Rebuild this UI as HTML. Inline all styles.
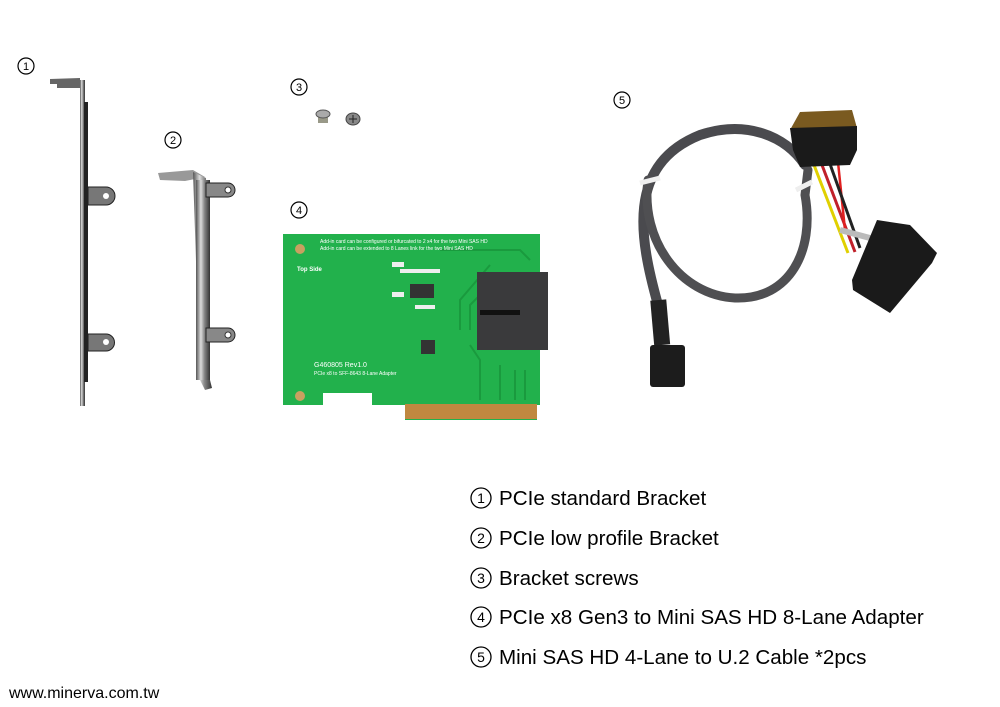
<!DOCTYPE html>
<html><head><meta charset="utf-8"><style>
html,body{margin:0;padding:0;background:#fff;}
svg{display:block;}
text{font-family:"Liberation Sans",Arial,sans-serif;}
</style></head><body>
<svg width="1000" height="707" viewBox="0 0 1000 707" xmlns="http://www.w3.org/2000/svg">
<defs>
<linearGradient id="met" x1="0" x2="1" y1="0" y2="0">
<stop offset="0" stop-color="#555"/><stop offset="0.35" stop-color="#ddd"/><stop offset="0.6" stop-color="#888"/><stop offset="1" stop-color="#333"/>
</linearGradient>
</defs>
<g fill="none" stroke="#000" stroke-width="1.2">
<circle cx="26" cy="66" r="8"/><circle cx="173" cy="140" r="8"/><circle cx="299" cy="87" r="8"/><circle cx="299" cy="210" r="8"/><circle cx="622" cy="100" r="8"/>
</g>
<g font-size="11" text-anchor="middle" fill="#000">
<text x="26" y="70">1</text><text x="173" y="144">2</text><text x="299" y="91">3</text><text x="299" y="214">4</text><text x="622" y="104">5</text>
</g>
<!-- bracket 1 -->
<path d="M50 79 L80 78 L80 88 L57 88 L57 84 L50 84 Z" fill="#666"/>
<rect x="80" y="80" width="5" height="326" fill="url(#met)"/>
<rect x="84" y="102" width="4" height="280" fill="#222"/>
<path d="M88 187 L106 187 A6 6 0 0 1 106 205 L88 205 Z" fill="#777" stroke="#222"/>
<circle cx="106" cy="196" r="3" fill="#fff"/>
<path d="M88 334 L106 334 A6 6 0 0 1 106 351 L88 351 Z" fill="#777" stroke="#222"/>
<circle cx="106" cy="342" r="3" fill="#fff"/>
<!-- bracket 2 -->
<path d="M158 173 L193 170 L205 177 L185 181 L160 180 Z" fill="#999"/>
<path d="M193 172 L206 178 L210 380 L212 388 L205 390 L200 380 Z" fill="url(#met)"/>
<rect x="196" y="180" width="14" height="200" fill="url(#met)"/>
<path d="M206 183 L228 183 A7 7 0 0 1 228 197 L206 197 Z" fill="#888" stroke="#222"/>
<circle cx="228" cy="190" r="3" fill="#fff" stroke="#333"/>
<path d="M206 328 L228 328 A7 7 0 0 1 228 342 L206 342 Z" fill="#888" stroke="#222"/>
<circle cx="228" cy="335" r="3" fill="#fff" stroke="#333"/>
<!-- screws -->
<rect x="318" y="113" width="10" height="10" fill="#998" /><ellipse cx="323" cy="114" rx="7" ry="4" fill="#aaa" stroke="#555"/>
<ellipse cx="353" cy="119" rx="7" ry="6" fill="#888" stroke="#444"/><path d="M349 119h8M353 115v8" stroke="#222"/>
<!-- PCB -->
<path d="M283 234 L540 234 L540 405 L537 405 L537 420 L405 420 L405 405 L372 405 L372 393 L323 393 L323 405 L283 405 Z" fill="#22b14c"/>
<rect x="405" y="404" width="132" height="15" fill="#c08840"/>
<g stroke="#1a9a3e" stroke-width="2" fill="none">
<path d="M460 330 L460 300 L490 265"/><path d="M470 330 L470 305 L500 275"/><path d="M480 400 L480 360 L470 345"/><path d="M500 400 L500 365"/><path d="M515 400 L515 370"/><path d="M525 400 L525 370"/>
<path d="M440 250 L520 250 L530 260"/>
</g>
<circle cx="300" cy="249" r="5" fill="#c9a060"/><circle cx="300" cy="396" r="5" fill="#c9a060"/>
<rect x="410" y="284" width="24" height="14" fill="#333"/>
<rect x="421" y="340" width="14" height="14" fill="#333"/>
<g fill="#eee"><rect x="392" y="262" width="12" height="5"/><rect x="392" y="292" width="12" height="5"/><rect x="415" y="305" width="20" height="4"/><rect x="400" y="269" width="40" height="4"/></g>
<rect x="477" y="272" width="71" height="78" fill="#3a3a3c"/>
<rect x="480" y="310" width="40" height="5" fill="#111"/>
<g font-size="5" fill="#fff">
<text x="320" y="243">Add-in card can be configured or bifurcated to 2 x4 for the two Mini SAS HD</text>
<text x="320" y="250">Add-in card can be extended to 8 Lanes link for the two Mini SAS HD</text>
<text x="297" y="271" font-size="6" font-weight="bold">Top Side</text>
<text x="314" y="367" font-size="7">G460805 Rev1.0</text>
<text x="314" y="375">PCIe x8 to SFF-8643 8-Lane Adapter</text>
</g>
<!-- cable -->
<g fill="none" stroke-linecap="round">
<path d="M658 305 C 640 240, 625 165, 700 135 C 745 120, 785 135, 805 165" stroke="#4a4a4e" stroke-width="10"/>
<path d="M648 180 C 640 240, 680 295, 735 298 C 790 300, 815 250, 805 195 L 808 170" stroke="#4f4f52" stroke-width="9"/>
</g>
<rect x="652" y="300" width="16" height="45" fill="#222" transform="rotate(-5 660 320)"/>
<rect x="650" y="345" width="35" height="42" rx="3" fill="#1c1c1c"/>
<path d="M640 183 L660 178 M796 190 L812 182" stroke="#eee" stroke-width="5"/>
<path d="M814 165 L848 253" stroke="#e0d000" stroke-width="3"/>
<path d="M822 165 L855 252" stroke="#c0202a" stroke-width="3"/>
<path d="M838 162 L845 230 L865 236" stroke="#e02020" stroke-width="2.5" fill="none"/>
<path d="M830 164 L860 248" stroke="#222" stroke-width="3"/>
<path d="M840 230 L870 238" stroke="#bbb" stroke-width="6"/>
<path d="M800 112 L852 110 L857 128 L790 130 Z" fill="#7a5a20"/>
<path d="M790 128 L857 126 L857 150 L850 165 L800 167 L793 150 Z" fill="#1a1a1a"/>
<path d="M852 280 L877 220 L910 225 L937 253 L932 263 L890 313 L853 290 Z" fill="#1a1a1a"/>
<!-- legend -->
<g fill="none" stroke="#000" stroke-width="1.3">
<circle cx="481" cy="498" r="10"/><circle cx="481" cy="538" r="10"/><circle cx="481" cy="578" r="10"/><circle cx="481" cy="617" r="10"/><circle cx="481" cy="657" r="10"/>
</g>
<g font-size="14" text-anchor="middle" fill="#000">
<text x="481" y="503">1</text><text x="481" y="543">2</text><text x="481" y="583">3</text><text x="481" y="622">4</text><text x="481" y="662">5</text>
</g>
<g font-size="20.6" fill="#000">
<text x="499" y="505">PCIe standard Bracket</text>
<text x="499" y="545">PCIe low profile Bracket</text>
<text x="499" y="585">Bracket screws</text>
<text x="499" y="624">PCIe x8 Gen3 to Mini SAS HD 8-Lane Adapter</text>
<text x="499" y="664">Mini SAS HD 4-Lane to U.2 Cable *2pcs</text>
</g>
<text x="9" y="698" font-size="16" fill="#000">www.minerva.com.tw</text>
</svg>
</body></html>
